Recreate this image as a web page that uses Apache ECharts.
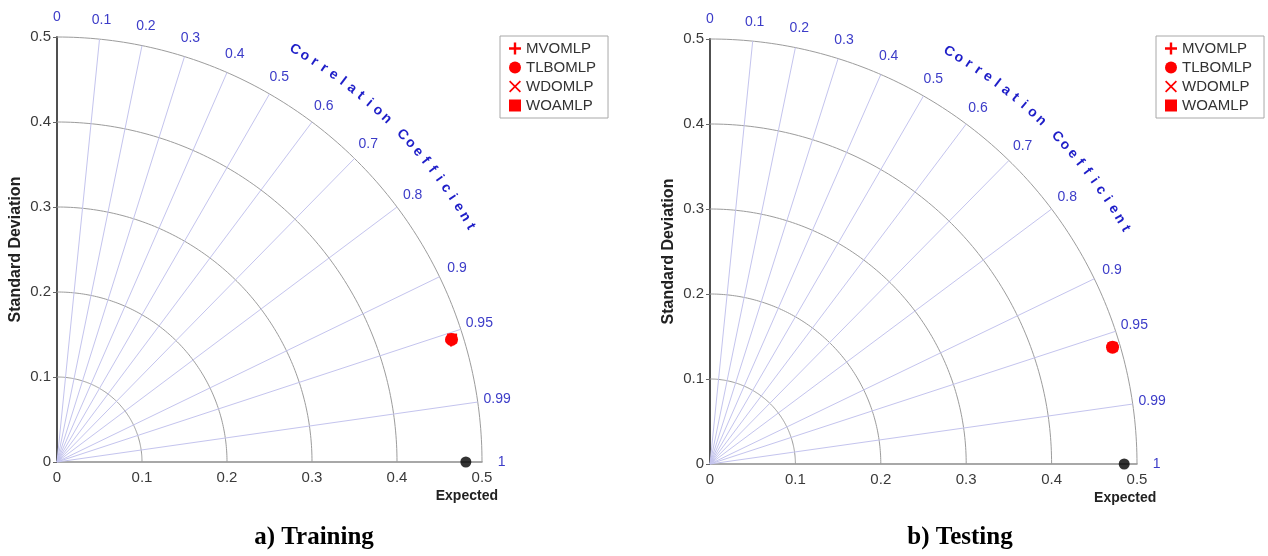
<!DOCTYPE html>
<html>
<head>
<meta charset="utf-8">
<script src="https://cdn.jsdelivr.net/npm/echarts@6/dist/echarts.min.js"></script>
<style>
  html, body { margin: 0; padding: 0; background: #ffffff; }
  #chart { width: 1268px; height: 556px; }
</style>
</head>
<body>
<div id="chart"></div>
<script>
// Model names shown in both panels
const modelNames = ['MVOMLP', 'TLBOMLP', 'WDOMLP', 'WOAMLP'];

// Training panel: standard deviation and correlation of each model, plus the observed std
const trainStd = [0.485, 0.486, 0.486, 0.487];
const trainCorr = [0.956, 0.955, 0.955, 0.9545];
const trainRefStd = 0.481;

// Testing panel
const testStd = [0.491, 0.491, 0.492, 0.491];
const testCorr = [0.960, 0.960, 0.959, 0.960];
const testRefStd = 0.485;

// Standard deviation arcs and correlation rays / labels
const stdArcs = [0.1, 0.2, 0.3, 0.4, 0.5];
const corrRays = [0.1, 0.2, 0.3, 0.4, 0.5, 0.6, 0.7, 0.8, 0.9, 0.95, 0.99];
const corrLabels = ['0', '0.1', '0.2', '0.3', '0.4', '0.5', '0.6', '0.7', '0.8', '0.9', '0.95', '0.99', '1'];
const corrTitle = 'Correlation Coefficient';
const stdTitle = 'Standard Deviation';
const refName = 'Expected';
const panelTitles = ['a) Training', 'b) Testing'];

const SANS = '"Liberation Sans", Arial, sans-serif';
const SERIF = '"Liberation Serif", "Times New Roman", serif';
const RED = '#ff0000';

const symbols = {
  MVOMLP: { symbol: 'path://M4,0h2v4h4v2h-4v4h-2v-4h-4v-2h4z', size: 11 },
  TLBOMLP: { symbol: 'circle', size: 13 },
  WDOMLP: { symbol: 'path://M1,0L5,4L9,0L10,1L6,5L10,9L9,10L5,6L1,10L0,9L4,5L0,1Z', size: 8 },
  WOAMLP: { symbol: 'rect', size: 10 }
};

const grids = [
  { left: 57, top: 37, width: 425, height: 425 },
  { left: 710, top: 39, width: 427, height: 425 }
];

function toXY(s, c) {
  return [s * c, s * Math.sqrt(Math.max(0, 1 - c * c))];
}

function makeAxis(isY) {
  return grids.map((g, i) => ({
    type: 'value',
    gridIndex: i,
    min: 0,
    max: 0.5,
    interval: 0.1,
    splitLine: { show: false },
    axisLine: { show: true, lineStyle: isY ? { color: '#505050', width: 2 } : { color: '#8c8c8c', width: 1.5 } },
    axisTick: isY ? { show: true, length: 4, lineStyle: { color: '#666666' } } : { show: false },
    axisLabel: {
      color: '#3a3a3a', fontSize: 15, fontFamily: SANS, margin: isY ? 6 : 8,
      formatter: v => (v === 0 ? '0' : (+v.toFixed(2)).toString())
    },
    name: isY ? stdTitle : '',
    nameLocation: 'middle',
    nameGap: isY ? 33 : 20,
    nameTextStyle: { fontSize: 16, fontWeight: 'bold', color: '#222222', fontFamily: SANS }
  }));
}

// Polar grid of a Taylor diagram drawn on a cartesian panel
function polarSeries(p, refStd) {
  const common = { type: 'custom', xAxisIndex: p, yAxisIndex: p, silent: true, z: 1, clip: false };
  return [
    Object.assign({}, common, {
      name: 'arcs' + p,
      data: stdArcs.map(s => [s, 0]),
      renderItem: (params, api) => {
        const s = api.value(0);
        const pts = [];
        for (let k = 0; k <= 120; k++) {
          const a = (Math.PI / 2) * k / 120;
          pts.push(api.coord([s * Math.cos(a), s * Math.sin(a)]));
        }
        return { type: 'polyline', shape: { points: pts }, style: { stroke: '#9c9c9c', lineWidth: 1, fill: null } };
      }
    }),
    Object.assign({}, common, {
      name: 'rays' + p,
      data: corrRays.map(c => [c, 0]),
      renderItem: (params, api) => {
        const c = api.value(0);
        const o = api.coord([0, 0]);
        const e = api.coord(toXY(0.5, c));
        return { type: 'line', shape: { x1: o[0], y1: o[1], x2: e[0], y2: e[1] }, style: { stroke: '#c4c4ee', lineWidth: 1 } };
      }
    }),
    Object.assign({}, common, {
      name: 'corrLabels' + p,
      data: corrLabels.map(t => [Number(t), 0]),
      renderItem: (params, api) => {
        const c = api.value(0);
        const pt = api.coord(toXY(0.523, c));
        return {
          type: 'text', x: pt[0], y: pt[1],
          style: { text: corrLabels[params.dataIndex], fill: '#3c3cc8', font: '14px ' + SANS, align: 'center', verticalAlign: 'middle' }
        };
      }
    }),
    Object.assign({}, common, {
      name: 'corrTitle' + p,
      data: corrTitle.split('').map((ch, i) => [i, 0]),
      renderItem: (params, api) => {
        const i = api.value(0);
        const ang = (60 - i * 1.38) * Math.PI / 180;
        const pt = api.coord([0.56 * Math.cos(ang), 0.56 * Math.sin(ang)]);
        return {
          type: 'text', x: pt[0], y: pt[1], rotation: ang - Math.PI / 2,
          style: { text: corrTitle[i], fill: '#1e1ec8', font: 'bold 14px ' + SANS, align: 'center', verticalAlign: 'middle' }
        };
      }
    }),
    Object.assign({}, common, {
      name: 'refLabel' + p,
      data: [[refStd, 0]],
      renderItem: (params, api) => {
        const pt = api.coord([api.value(0), 0]);
        return {
          type: 'text', x: pt[0] + 1, y: pt[1] + 34,
          style: { text: refName, fill: '#222222', font: 'bold 14px ' + SANS, align: 'center', verticalAlign: 'middle' }
        };
      }
    })
  ];
}

function modelSeries(p, stds, corrs, refStd) {
  const list = modelNames.map((n, i) => ({
    type: 'scatter',
    name: n,
    xAxisIndex: p,
    yAxisIndex: p,
    symbol: symbols[n].symbol,
    symbolSize: symbols[n].size,
    itemStyle: { color: RED, opacity: 1 },
    z: 3,
    silent: true,
    data: [toXY(stds[i], corrs[i])]
  }));
  list.push({
    type: 'scatter',
    name: refName,
    xAxisIndex: p,
    yAxisIndex: p,
    symbol: 'circle',
    symbolSize: 11,
    itemStyle: { color: '#000000' },
    z: 3,
    silent: true,
    data: [[refStd, 0]]
  });
  return list;
}

function legendAt(left) {
  return {
    orient: 'vertical',
    left: left,
    top: 36,
    padding: [5, 12, 5, 9],
    itemGap: 4,
    itemWidth: 12,
    itemHeight: 12,
    selectedMode: false,
    borderColor: '#a8a8a8',
    borderWidth: 1,
    backgroundColor: '#ffffff',
    textStyle: { fontSize: 15, color: '#333333', fontFamily: SANS },
    data: modelNames
  };
}

const chart = echarts.init(document.getElementById('chart'), null, { renderer: 'canvas' });
chart.setOption({
  animation: false,
  backgroundColor: '#ffffff',
  grid: grids,
  xAxis: makeAxis(false),
  yAxis: makeAxis(true),
  legend: [legendAt(500), legendAt(1156)],
  graphic: [
    { type: 'text', x: 314, y: 538, style: { text: panelTitles[0], font: 'bold 25px ' + SERIF, fill: '#000000', align: 'center', verticalAlign: 'middle' } },
    { type: 'text', x: 960, y: 538, style: { text: panelTitles[1], font: 'bold 25px ' + SERIF, fill: '#000000', align: 'center', verticalAlign: 'middle' } }
  ],
  series: [].concat(
    polarSeries(0, trainRefStd),
    polarSeries(1, testRefStd),
    modelSeries(0, trainStd, trainCorr, trainRefStd),
    modelSeries(1, testStd, testCorr, testRefStd)
  )
});
</script>
</body>
</html>
